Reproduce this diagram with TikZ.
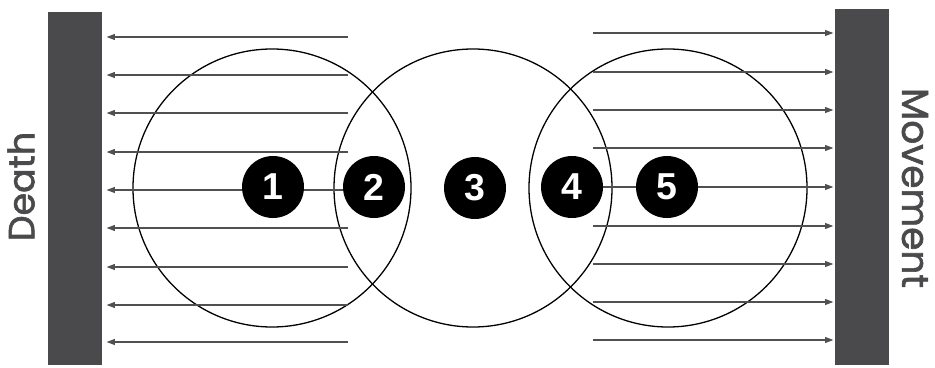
\documentclass[tikz,border=0pt]{standalone}
\usepackage{fontspec}
\setmainfont{Poppins}
\newfontfamily\sidefont{Poppins}[FakeBold=1.6]
\newfontfamily\digitfont{Liberation Sans}
\usetikzlibrary{arrows.meta}
\definecolor{wallgray}{RGB}{74,74,76}
\definecolor{linegray}{RGB}{80,80,80}
\begin{document}
\begin{tikzpicture}[x=0.03cm,y=-0.03cm]
		\tikzstyle{wall}=[fill=wallgray, draw=none, shape=rectangle, inner sep=0pt, minimum width=1.6cm];
		\tikzstyle{ring}=[draw=black, line width=1.1pt, shape=circle, inner sep=0pt, minimum size=8.34cm];
		\tikzstyle{num}=[fill=black, shape=circle, inner sep=0pt, minimum size=1.86cm, text=white, font=\digitfont\fontsize{32}{32}\selectfont\bfseries];
		\tikzstyle{flow}=[draw=linegray, line width=1pt, -{Triangle[length=7pt,width=5pt]}];
		\useasboundingbox (0,0) rectangle (935,367);

		\node[wall, minimum height=10.59cm] (death) at (75,188.5) {};
		\node[wall, minimum height=10.68cm] (movement) at (862,187) {};
		\node[rotate=90, text=wallgray, font=\sidefont\fontsize{31}{31}\selectfont] (deathlabel) at (21,186.5) {Death};
		\node[rotate=-90, text=wallgray, font=\sidefont\fontsize{32}{32}\selectfont] (movementlabel) at (915,188) {Movement};

		\node[ring] (left) at (272,188) {};
		\node[ring] (middle) at (473,188) {};
		\node[ring] (right) at (668,188) {};

		\foreach \y [count=\i] in {37,75,113,152,190,228,267,305,342}
		{
			\coordinate (ls\i) at (348,\y);
			\draw[flow, shorten >=4pt] (ls\i) to (ls\i -| death.east);
		}
		\foreach \y [count=\i] in {33,72,110,148,187,226,264,302,340}
		{
			\coordinate (rs\i) at (593,\y);
			\draw[flow, shorten >=1.5pt] (rs\i) to (rs\i -| movement.west);
		}

		\node[num] (n1) at (273,187) {1};
		\node[num] (n2) at (374,187) {2};
		\node[num] (n3) at (475,188) {3};
		\node[num] (n4) at (572,187) {4};
		\node[num] (n5) at (667,187) {5};
\end{tikzpicture}
\end{document}
